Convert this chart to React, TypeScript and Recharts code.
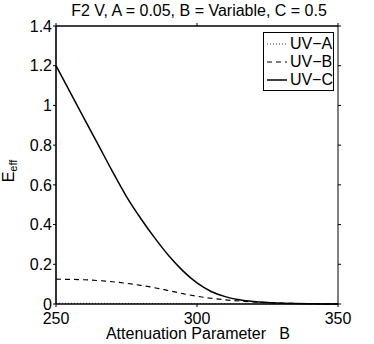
import React from 'react';
import { LineChart, Line, XAxis, YAxis, Legend } from 'recharts';

const bValues = [250, 255, 260, 265, 270, 275, 280, 285, 290, 295, 300, 305, 310, 315, 320, 325, 330, 335, 340, 345, 350];
const uvA = [0.004, 0.0038, 0.0036, 0.0034, 0.0031, 0.0028, 0.0025, 0.0022, 0.0019, 0.0016, 0.0013, 0.001, 0.0008, 0.0006, 0.0004, 0.0003, 0.0002, 0.0001, 0.0001, 0.00005, 0];
const uvB = [0.125, 0.124, 0.122, 0.118, 0.112, 0.104, 0.094, 0.082, 0.067, 0.052, 0.039, 0.029, 0.021, 0.015, 0.0105, 0.007, 0.0045, 0.0027, 0.0014, 0.0006, 0.0002];
const uvC = [1.2, 1.067, 0.934, 0.801, 0.668, 0.541, 0.432, 0.333, 0.243, 0.167, 0.106, 0.063, 0.037, 0.021, 0.012, 0.007, 0.004, 0.002, 0.001, 0.0004, 0];
const xTicks = [250, 300, 350];
const yTicks = [0, 0.2, 0.4, 0.6, 0.8, 1, 1.2, 1.4];
const seriesNames = ['UV\u2212A', 'UV\u2212B', 'UV\u2212C'];

const data = bValues.map((b, i) => ({ b, uvA: uvA[i], uvB: uvB[i], uvC: uvC[i] }));

const FONT = '"Liberation Sans", Arial, Helvetica, sans-serif';

const styleByKey: Record<string, { dash?: string; width: number }> = {
  uvA: { dash: '1 2', width: 0.8 },
  uvB: { dash: '5 4', width: 1.2 },
  uvC: { dash: undefined, width: 1.5 },
};

const renderLegend = (props: any) => {
  const payload = (props.payload || []).filter((e: any) => e.type !== 'none' && styleByKey[e.dataKey]);
  return (
    <div
      style={{
        border: '1px solid #000',
        background: '#fff',
        width: 71,
        height: 59,
        paddingTop: 2,
        boxSizing: 'border-box',
        fontSize: 16,
        fontFamily: FONT,
        color: '#000',
      }}
    >
      {payload.map((entry: any, i: number) => {
        const s = styleByKey[entry.dataKey] || { width: 1 };
        return (
          <div key={i} style={{ display: 'flex', alignItems: 'center', height: 18, lineHeight: '18px' }}>
            <svg width={26} height={18} style={{ display: 'block' }}>
              <line x1={3} x2={23} y1={9} y2={9} stroke="#000" strokeWidth={s.width} strokeDasharray={s.dash} />
            </svg>
            <span style={{ whiteSpace: 'nowrap' }}>{entry.value}</span>
          </div>
        );
      })}
    </div>
  );
};

const noTick = () => <g />;

export default function App() {
  return (
    <div style={{ width: 374, height: 344, background: '#fff', fontFamily: FONT, position: 'relative' }}>
      <style>{'body{margin:0;background:#fff}'}</style>
      <LineChart width={374} height={344} data={data} margin={{ top: 25, right: 35, bottom: 0, left: 0 }}>
        <XAxis
          xAxisId="main"
          dataKey="b"
          type="number"
          domain={[250, 350]}
          ticks={xTicks}
          height={40}
          tickSize={3}
          tickMargin={6}
          stroke="#000"
          axisLine={{ stroke: '#000', strokeWidth: 1.6 }}
          tick={{ fill: '#000', fontSize: 16, fontFamily: FONT }}
          label={{
            content: () => (
              <g>
                <text x={198} y={339} textAnchor="middle" fill="#000" fontSize={16} fontFamily={FONT} style={{ whiteSpace: 'pre' }}>
                  {'Attenuation Parameter   B'}
                </text>
                <text x={199} y={16} textAnchor="middle" fill="#000" fontSize={16} fontFamily={FONT}>
                  F2 V, A = 0.05, B = Variable, C = 0.5
                </text>
              </g>
            ),
          }}
        />
        <XAxis
          xAxisId="top"
          orientation="top"
          dataKey="b"
          type="number"
          domain={[250, 350]}
          ticks={xTicks}
          height={1}
          tickSize={3}
          stroke="#000"
          axisLine={{ stroke: '#000', strokeWidth: 1.6 }}
          tick={noTick}
        />
        <YAxis
          yAxisId="main"
          type="number"
          domain={[0, 1.4]}
          ticks={yTicks}
          width={56}
          tickSize={3}
          tickMargin={1}
          stroke="#000"
          axisLine={{ stroke: '#000', strokeWidth: 1.6 }}
          tick={{ fill: '#000', fontSize: 16, fontFamily: FONT }}
          label={{
            content: () => (
              <text transform="translate(14,171) rotate(-90)" textAnchor="middle" fill="#000" fontSize={16} fontFamily={FONT}>
                E<tspan dy={3} fontSize={11}>eff</tspan>
              </text>
            ),
          }}
        />
        <YAxis
          yAxisId="right"
          orientation="right"
          type="number"
          domain={[0, 1.4]}
          ticks={yTicks}
          width={1}
          tickSize={3}
          stroke="#000"
          tick={noTick}
        />
        <Legend
          layout="horizontal"
          verticalAlign="middle"
          align="center"
          content={renderLegend}
          wrapperStyle={{ left: 263, top: 32, width: 71, height: 59 }}
        />
        <Line xAxisId="main" yAxisId="main" type="monotone" dataKey="uvA" name={seriesNames[0]} stroke="#000" strokeWidth={0.8} strokeDasharray="1 2" dot={false} isAnimationActive={false} />
        <Line xAxisId="main" yAxisId="main" type="monotone" dataKey="uvB" name={seriesNames[1]} stroke="#000" strokeWidth={1.2} strokeDasharray="5 4" dot={false} isAnimationActive={false} />
        <Line xAxisId="main" yAxisId="main" type="monotone" dataKey="uvC" name={seriesNames[2]} stroke="#000" strokeWidth={1.5} dot={false} isAnimationActive={false} />
        <Line xAxisId="top" yAxisId="right" type="monotone" dataKey="uvC" stroke="none" legendType="none" dot={false} activeDot={false} isAnimationActive={false} />
      </LineChart>
    </div>
  );
}
